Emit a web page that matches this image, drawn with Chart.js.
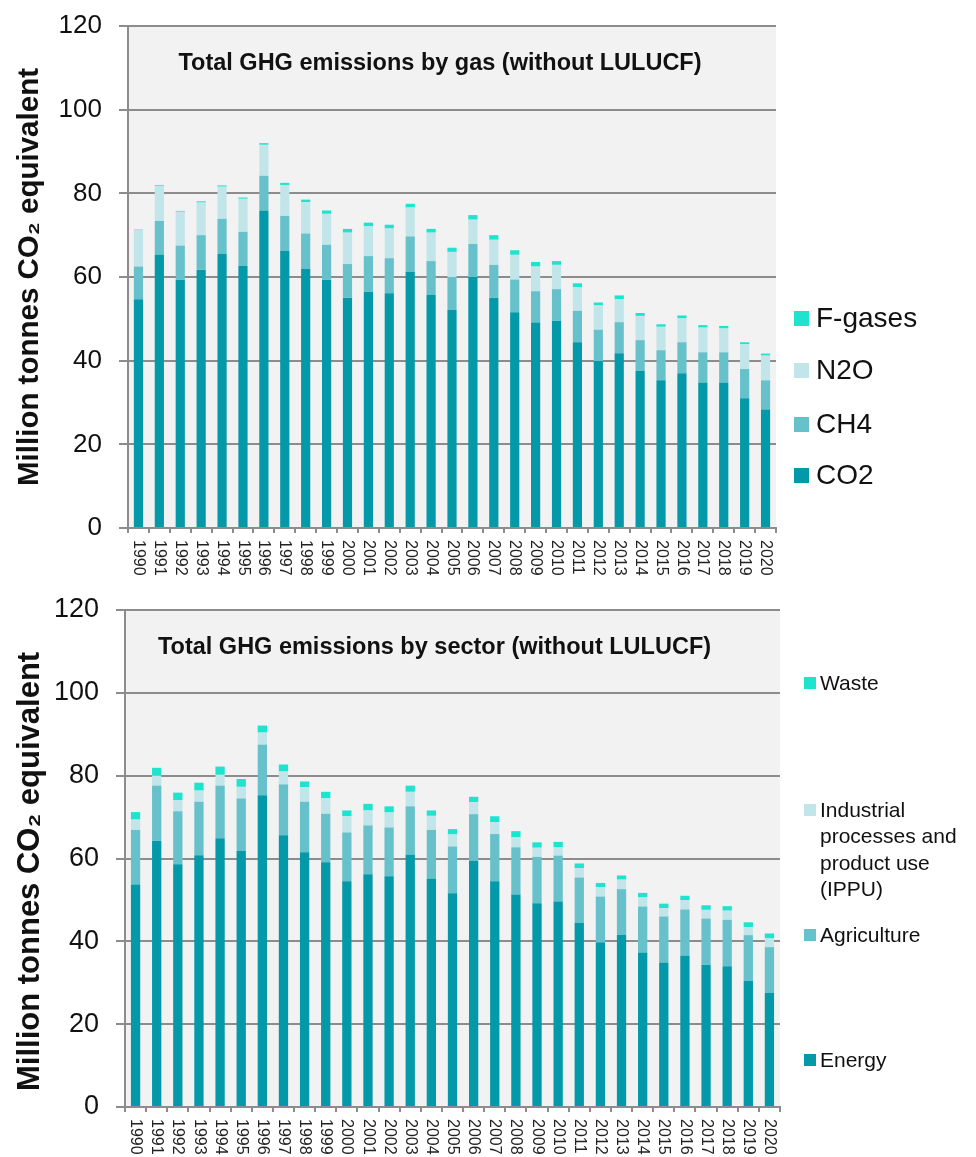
<!DOCTYPE html>
<html>
<head>
<meta charset="utf-8">
<script src="https://cdn.jsdelivr.net/npm/chart.js@4/dist/chart.umd.min.js"></script>
<style>
  body { margin: 0; background: #fff; font-family: "Liberation Sans", Arial, sans-serif; }
  #wrap { position: relative; width: 976px; height: 1157px; }
  .box { position: absolute; left: 0; width: 976px; }
  .legend-item { position: absolute; color: #111; white-space: nowrap; }
  .legend-item .sw { position: absolute; left: 0; }
</style>
</head>
<body>
<div id="wrap">
  <div class="box" style="top:0;height:585px"><canvas id="gasChart" width="976" height="585"></canvas></div>
  <div class="box" style="top:585px;height:572px"><canvas id="sectorChart" width="976" height="572"></canvas></div>
  <div id="legendTop"></div>
  <div id="legendBottom"></div>
</div>
<script>
const years = ['1990','1991','1992','1993','1994','1995','1996','1997','1998','1999','2000','2001','2002','2003','2004','2005','2006','2007','2008','2009','2010','2011','2012','2013','2014','2015','2016','2017','2018','2019','2020'];
const yTicks = [0, 20, 40, 60, 80, 100, 120];

// by gas (Mt CO2 eq)
const co2 = [54.7, 65.3, 59.3, 61.7, 65.5, 62.6, 75.9, 66.2, 61.9, 59.3, 55.0, 56.5, 56.1, 61.2, 55.7, 52.1, 60.0, 55.0, 51.6, 49.1, 49.5, 44.4, 39.9, 41.8, 37.6, 35.3, 37.0, 34.8, 34.7, 31.0, 28.3];
const ch4 = [7.8, 8.1, 8.2, 8.3, 8.4, 8.2, 8.3, 8.4, 8.5, 8.4, 8.1, 8.5, 8.4, 8.5, 8.1, 7.9, 7.9, 7.9, 7.8, 7.5, 7.6, 7.5, 7.5, 7.4, 7.3, 7.2, 7.4, 7.2, 7.3, 7.0, 7.0];
const n2o = [8.8, 8.4, 8.1, 7.8, 7.7, 7.9, 7.4, 7.4, 7.5, 7.4, 7.5, 7.1, 7.1, 6.9, 6.8, 6.0, 5.8, 6.0, 5.9, 5.9, 5.8, 5.7, 5.8, 5.5, 5.8, 5.6, 5.7, 5.9, 5.7, 5.9, 5.9];
const fgases = [0.1, 0.2, 0.2, 0.3, 0.3, 0.3, 0.4, 0.5, 0.6, 0.8, 0.9, 0.9, 0.9, 0.9, 0.9, 1.0, 1.1, 1.1, 1.1, 1.1, 0.9, 0.9, 0.7, 0.9, 0.7, 0.6, 0.7, 0.6, 0.6, 0.5, 0.5];

// by sector (Mt CO2 eq)
const energy = [53.7, 64.3, 58.6, 60.8, 64.9, 61.8, 75.3, 65.6, 61.5, 59.1, 54.5, 56.2, 55.7, 60.9, 55.2, 51.6, 59.4, 54.5, 51.3, 49.2, 49.6, 44.4, 39.8, 41.6, 37.3, 34.9, 36.5, 34.3, 34.0, 30.4, 27.5];
const agriculture = [13.2, 13.3, 12.8, 12.9, 12.7, 12.7, 12.2, 12.3, 12.2, 11.7, 11.8, 11.8, 11.8, 11.7, 11.7, 11.3, 11.3, 11.4, 11.4, 11.2, 11.1, 11.0, 11.0, 11.0, 11.1, 11.1, 11.2, 11.2, 11.2, 11.1, 11.1];
const ippu = [2.5, 2.4, 2.7, 2.7, 2.6, 2.8, 2.9, 3.1, 3.5, 3.7, 3.9, 3.6, 3.6, 3.5, 3.4, 2.9, 2.9, 2.9, 2.4, 2.2, 2.0, 2.3, 2.3, 2.3, 2.2, 2.0, 2.2, 2.1, 2.2, 1.9, 2.1];
const waste = [1.8, 1.9, 1.8, 1.9, 2.0, 1.9, 1.7, 1.7, 1.4, 1.6, 1.4, 1.6, 1.5, 1.5, 1.3, 1.3, 1.3, 1.4, 1.5, 1.3, 1.3, 1.1, 1.0, 1.0, 1.1, 1.1, 1.1, 1.1, 1.1, 1.2, 1.2];

const colors = ['#0399A8', '#67C1CB', '#C1E5E9', '#1EE3CF'];
const FONT = '"Liberation Sans", Arial, sans-serif';
const GRID = '#8c8c8c';

// plot background + title inside the plot + top-to-bottom year labels
const plotExtras = {
  id: 'plotExtras',
  beforeDraw(chart, args, opts) {
    const a = chart.chartArea;
    const ctx = chart.ctx;
    ctx.save();
    ctx.fillStyle = '#f2f2f2';
    ctx.fillRect(a.left, a.top, a.right - a.left, a.bottom - a.top);
    ctx.restore();
  },
  afterDraw(chart, args, opts) {
    const a = chart.chartArea;
    const ctx = chart.ctx;
    ctx.save();
    ctx.fillStyle = '#111';
    ctx.font = 'bold 23.5px ' + FONT;
    ctx.textAlign = 'center';
    ctx.textBaseline = 'middle';
    ctx.fillText(opts.title, (a.left + a.right) / 2 + opts.titleDx, a.top + opts.titleDy);

    const xs = chart.scales.x;
    ctx.font = '16px ' + FONT;
    ctx.fillStyle = '#222';
    ctx.textAlign = 'left';
    years.forEach((y, i) => {
      ctx.save();
      ctx.translate(xs.getPixelForValue(i), a.bottom + 12);
      ctx.rotate(Math.PI / 2);
      ctx.fillText(y, 0, 0);
      ctx.restore();
    });
    ctx.restore();
  }
};

function makeChart(id, names, series, opt) {
  const datasets = names.map((n, i) => ({
    label: n,
    data: series[i],
    backgroundColor: colors[i],
    borderWidth: 0,
    barPercentage: 0.44,
    categoryPercentage: 1.0
  }));
  return new Chart(document.getElementById(id), {
    type: 'bar',
    data: { labels: years, datasets: datasets },
    plugins: [plotExtras],
    options: {
      responsive: false,
      animation: false,
      layout: { padding: { top: opt.top, right: 976 - opt.right, left: 0, bottom: 0 } },
      plugins: {
        legend: { display: false },
        tooltip: { enabled: false },
        plotExtras: { title: opt.title, titleDx: opt.titleDx, titleDy: opt.titleDy }
      },
      scales: {
        x: {
          stacked: true,
          afterFit: s => { s.height = opt.xHeight; },
          ticks: { display: false },
          grid: { drawOnChartArea: false, drawTicks: true, tickLength: 5, color: GRID, lineWidth: 2 },
          border: { color: GRID, width: 2 }
        },
        y: {
          stacked: true,
          min: 0,
          max: 120,
          // fixed axis width, and no extra room reserved for the tick labels
          afterFit: s => { s.width = opt.left; s.paddingTop = 0; s.paddingBottom = 0; },
          afterBuildTicks: s => { s.ticks = yTicks.map(v => ({ value: v })); },
          ticks: { color: '#111', padding: 17, font: { family: FONT, size: opt.tickSize } },
          grid: { color: GRID, lineWidth: 2, tickLength: 9 },
          border: { color: GRID, width: 2 },
          title: {
            display: true,
            text: 'Million tonnes CO\u2082 equivalent' + opt.titlePad,
            color: '#111',
            padding: { top: 12, bottom: 0 },
            font: { family: FONT, size: opt.titleSize, weight: 'bold' }
          }
        }
      }
    }
  });
}

makeChart('gasChart', ['CO2', 'CH4', 'N2O', 'F-gases'], [co2, ch4, n2o, fgases], {
  top: 26, left: 128, right: 776, xHeight: 57, tickSize: 26, titleSize: 29.5, titlePad: '',
  title: 'Total GHG emissions by gas (without LULUCF)', titleDx: -12, titleDy: 38
});

makeChart('sectorChart', ['Energy', 'Agriculture', 'Industrial processes and product use (IPPU)', 'Waste'],
  [energy, agriculture, ippu, waste], {
  top: 25, left: 125, right: 780, xHeight: 50, tickSize: 27, titleSize: 31, titlePad: '   ',
  title: 'Total GHG emissions by sector (without LULUCF)', titleDx: -18, titleDy: 38
});

// legends (HTML, reversed order like the original)
function addLegend(el, items, o) {
  items.forEach(it => {
    const d = document.createElement('div');
    d.className = 'legend-item';
    d.style.left = o.x + 'px';
    d.style.top = it.y + 'px';
    d.style.fontSize = o.size + 'px';
    d.style.lineHeight = o.lh + 'px';
    d.style.paddingLeft = o.textDx + 'px';
    d.innerHTML = it.text;
    const sw = document.createElement('span');
    sw.className = 'sw';
    sw.style.width = o.sw + 'px';
    sw.style.height = o.sw + 'px';
    sw.style.top = ((o.lh - o.sw) / 2) + 'px';
    sw.style.background = it.color;
    d.appendChild(sw);
    document.getElementById(el).appendChild(d);
  });
}

addLegend('legendTop', [
  { text: 'F-gases', color: colors[3], y: 318 - 17 },
  { text: 'N2O', color: colors[2], y: 370 - 17 },
  { text: 'CH4', color: colors[1], y: 424 - 17 },
  { text: 'CO2', color: colors[0], y: 475 - 17 }
], { x: 794, size: 28, lh: 34, sw: 15, textDx: 22 });

addLegend('legendBottom', [
  { text: 'Waste', color: colors[3], y: 683 - 13 },
  { text: 'Industrial<br>processes and<br>product use<br>(IPPU)', color: colors[2], y: 810 - 13 },
  { text: 'Agriculture', color: colors[1], y: 935 - 13 },
  { text: 'Energy', color: colors[0], y: 1060 - 13 }
], { x: 804, size: 21, lh: 26.3, sw: 12, textDx: 16 });
</script>
</body>
</html>
